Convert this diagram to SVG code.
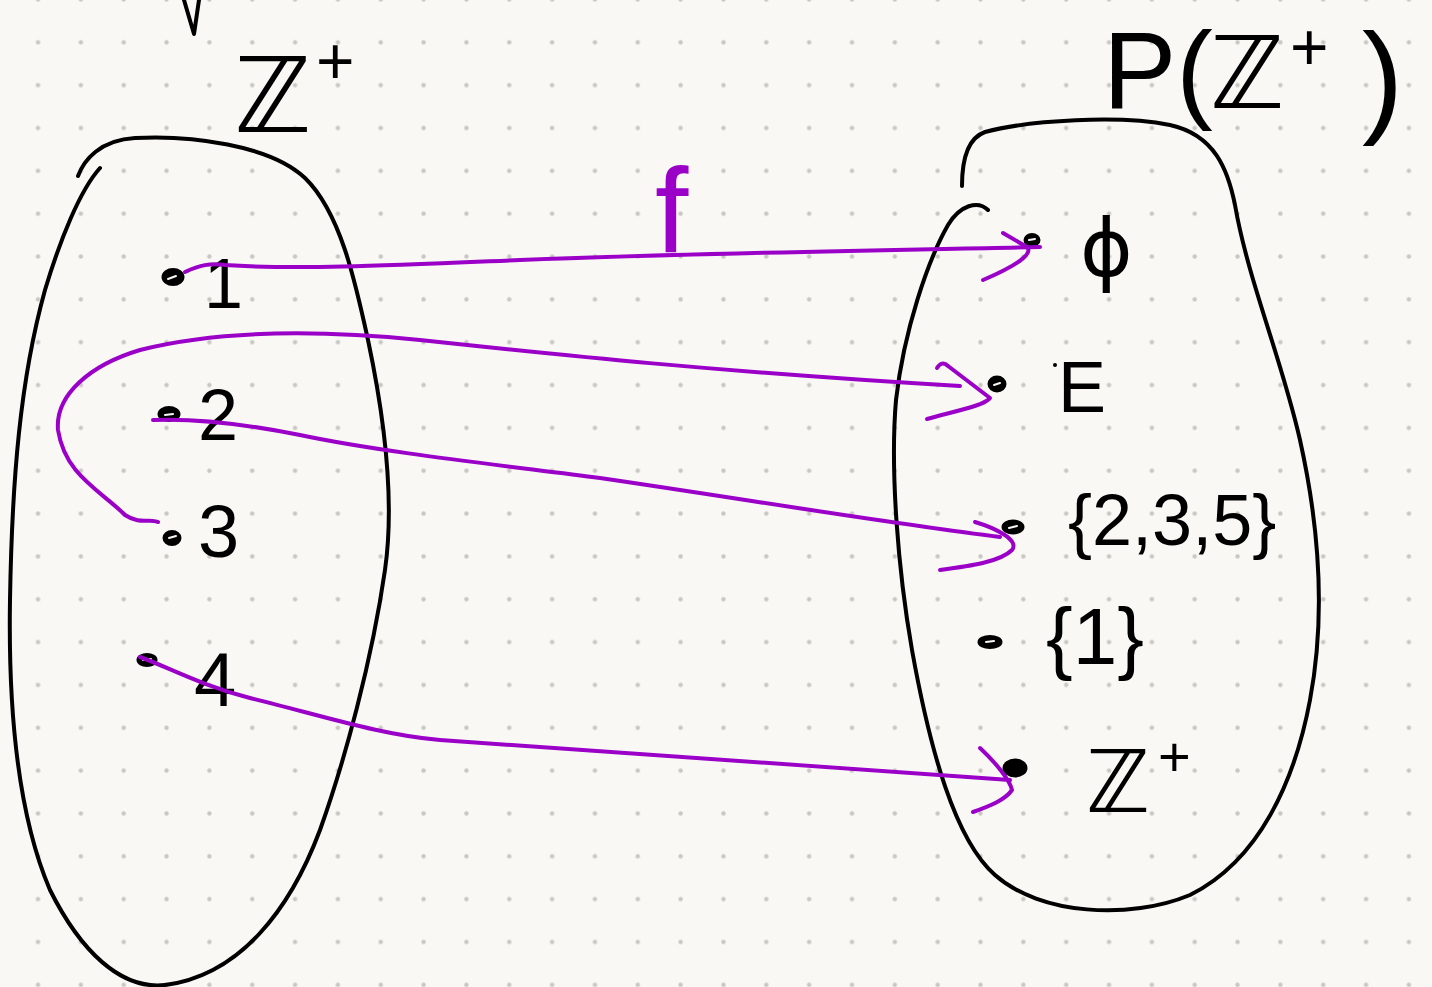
<svg xmlns="http://www.w3.org/2000/svg" width="1432" height="987" viewBox="0 0 1432 987">
<defs>
<pattern id="grid" patternUnits="userSpaceOnUse" x="16.6" y="20.9" width="42.84" height="42.84">
<circle cx="21.42" cy="21.42" r="2.2" fill="#c9c7c3"/>
</pattern>
</defs>
<style>
.ink{fill:none;stroke:#000;stroke-width:4;stroke-linecap:round;stroke-linejoin:round}
.arr{fill:none;stroke:#9a00c8;stroke-width:4;stroke-linecap:round;stroke-linejoin:round}
.dot{fill:#000;stroke:#000;stroke-width:3}
.hl{fill:none;stroke:#f9f8f4;stroke-width:2;stroke-linecap:round}
.lbl{font-family:"Liberation Sans","DejaVu Sans",sans-serif;fill:#000}
.zz{font-family:"DejaVu Sans","Liberation Sans",sans-serif;fill:#000}
</style>
<rect width="1432" height="987" fill="#f9f8f4"/>
<rect width="1432" height="987" fill="url(#grid)"/>
<path class="ink" d="M184,0 L194,34 L199,0"/>

<g id="set-left">
<path class="ink" d="M78,176 C84,160 100,140 135,138 C190,135 270,145 305,178 C340,212 355,280 368,340 C385,420 395,500 385,570 C372,660 345,760 320,830 C290,910 240,975 165,985 C120,990 80,950 50,890 C20,820 8,720 10,600 C12,480 20,380 45,290 C60,240 80,190 100,168"/>
<text class="zz" x="234" y="132" font-size="104">ℤ</text>
<text class="lbl" x="316" y="84" font-size="66">+</text>
</g>

<g id="set-right">
<path class="ink" d="M962,186 C962,160 968,138 985,132 C1030,120 1120,115 1170,125 C1215,135 1228,170 1235,205 C1248,280 1282,360 1300,440 C1320,530 1325,620 1310,700 C1295,780 1260,860 1190,895 C1130,920 1040,915 995,875 C955,840 930,750 912,650 C898,570 890,470 896,400 C904,330 928,260 948,225 C960,205 978,200 988,210"/>
<text class="lbl" x="1103" y="108" font-size="110">P(</text>
<text class="zz" x="1210" y="108" font-size="100">ℤ</text>
<text class="lbl" x="1290" y="70" font-size="66">+</text>
<text class="lbl" x="1362" y="120" font-size="124">)</text>
</g>

<g id="n1"><ellipse class="dot" cx="173" cy="277" rx="10" ry="7.5"/><path class="hl" d="M168,279 L176,276"/><text class="lbl" x="204" y="308" font-size="70">1</text></g>
<g id="n2"><ellipse class="dot" cx="169" cy="414" rx="10" ry="6.5"/><path class="hl" d="M165,415 L173,414"/><text class="lbl" x="198" y="440" font-size="72">2</text></g>
<g id="n3"><ellipse class="dot" cx="172" cy="538" rx="8" ry="6.5"/><path class="hl" d="M169,538 L176,536"/><text class="lbl" x="198" y="557" font-size="74">3</text></g>
<g id="n4"><ellipse class="dot" cx="147" cy="660" rx="9" ry="5.5"/><path class="hl" d="M143,660 L151,659"/><text class="lbl" x="194" y="706" font-size="76">4</text></g>

<g id="m-empty"><ellipse class="dot" cx="1032" cy="240" rx="7" ry="5.5"/><path class="hl" d="M1029,240 L1035,239"/><text class="zz" x="1080" y="276" font-size="80">ϕ</text></g>
<g id="m-E"><ellipse class="dot" cx="997" cy="384" rx="8" ry="7"/><path class="hl" d="M994,385 L1000,383"/><circle cx="1055" cy="365" r="2" fill="#000"/><text class="lbl" x="1058" y="412" font-size="72">E</text></g>
<g id="m-235"><ellipse class="dot" cx="1013" cy="527" rx="10" ry="6"/><path class="hl" d="M1009,528 L1017,526"/><text class="lbl" x="1068" y="545" font-size="72">{2,3,5}</text></g>
<g id="m-1"><ellipse class="dot" cx="990" cy="642" rx="11" ry="5.5"/><path class="hl" d="M986,642 L994,641"/><text class="lbl" x="1046" y="664" font-size="80">{1}</text></g>
<g id="m-Z"><ellipse class="dot" cx="1015" cy="768" rx="11" ry="8"/><text class="zz" x="1086" y="812" font-size="86">ℤ</text><text class="lbl" x="1158" y="776" font-size="56">+</text></g>

<g id="connectors">
<path class="arr" d="M185,272 C200,265 210,263 225,265 C300,270 400,265 520,260 C700,253 900,250 1040,247"/>
<path class="arr" d="M1003,233 L1027,247 C1032,252 1025,262 983,280"/>
<path class="arr" d="M158,522 C150,518 140,525 125,515 C100,490 65,475 58,430 C55,395 90,365 140,350 C220,330 320,330 420,340 C560,355 720,372 960,386"/>
<path class="arr" d="M937,368 C940,363 944,362 948,366 L990,398 C985,405 960,410 927,419"/>
<path class="arr" d="M153,420 C200,418 250,425 300,435 C380,452 500,465 600,478 C750,500 880,522 1000,537"/>
<path class="arr" d="M975,522 C995,528 1020,540 1012,550 C1000,562 970,566 940,570"/>
<path class="arr" d="M140,657 C170,668 200,685 250,698 C320,715 380,735 440,740 C600,750 800,765 1010,780"/>
<path class="arr" d="M980,748 C995,762 1010,780 1012,790 C1005,800 990,806 973,812"/>
<text x="655" y="252" font-size="120" font-family="Liberation Sans, sans-serif" fill="#9a00c8">f</text>
</g>
</svg>
